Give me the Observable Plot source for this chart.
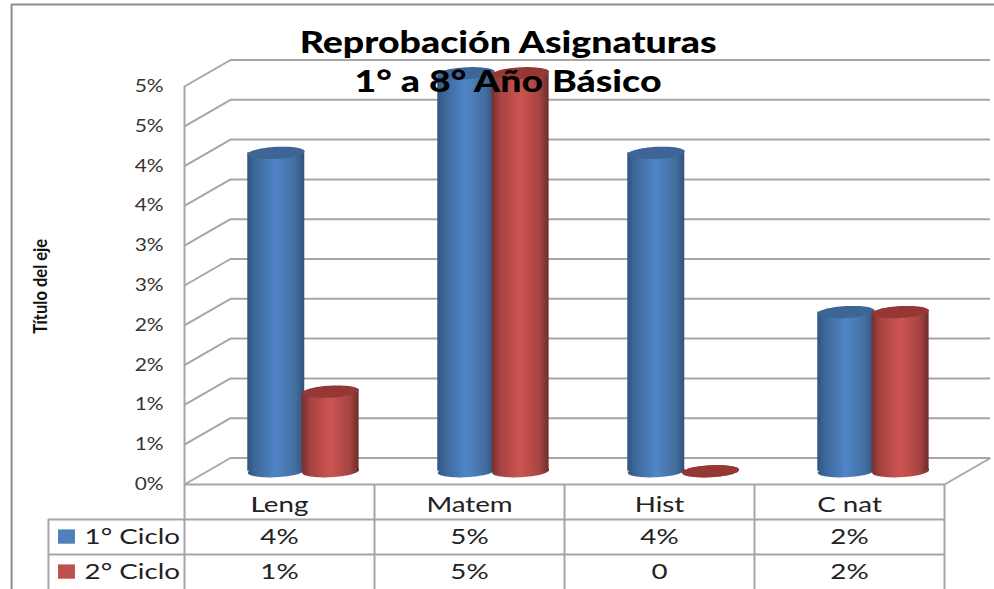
<!DOCTYPE html>
<html>
<head>
<meta charset="utf-8">
<script src="https://cdn.jsdelivr.net/npm/d3@7"></script>
<script src="https://cdn.jsdelivr.net/npm/@observablehq/plot@0.6"></script>
<style>html,body{margin:0;padding:0;background:#fff;overflow:hidden}svg{display:block}</style>
</head>
<body>
<script>
const categories = ["Leng", "Matem", "Hist", "C nat"];
const ciclo1 = [4, 5, 4, 2];
const ciclo2 = [1, 5, 0, 2];
const ciclo1Labels = ["4%", "5%", "4%", "2%"];
const ciclo2Labels = ["1%", "5%", "0", "2%"];
const seriesNames = ["1° Ciclo", "2° Ciclo"];
const tickValues = [0, 0.5, 1, 1.5, 2, 2.5, 3, 3.5, 4, 4.5, 5];
const tickLabels = ["0%", "1%", "1%", "2%", "2%", "3%", "3%", "4%", "4%", "5%", "5%"];
const titleLines = ["Reprobación Asignaturas", "1° a 8° Año Básico"];
const axisTitle = "Título del eje";

// Layout, in data units of the two scales
const depthX = 0.242, depthY = 0.333;
const halfBar = 0.15, barOffset = 0.143;
const rowY = [-0.44, -0.88, -1.33];
const tableLeft = -0.716;
const grid = "#a6a6a6";

const barData = (values, off) => values.map((v, i) => ({
  x: i + 0.505 + depthX / 2 + off, base: depthY / 2, top: v + depthY / 2
}));

const ellipse = {
  draw(ctx) {
    const rx = 28.5, ry = 6, a = -3 * Math.PI / 180;
    for (let k = 0; k <= 64; ++k) {
      const t = k / 64 * 2 * Math.PI, ex = rx * Math.cos(t), ey = ry * Math.sin(t);
      const px = ex * Math.cos(a) - ey * Math.sin(a), py = ex * Math.sin(a) + ey * Math.cos(a);
      k ? ctx.lineTo(px, py) : ctx.moveTo(px, py);
    }
    ctx.closePath();
  }
};

const cylinder = (values, off, grad, cap) => {
  const d = barData(values, off);
  return [
    Plot.dot(d, {x: "x", y: "base", r: 10, symbol: ellipse, fill: grad}),
    Plot.rect(d.filter(b => b.top > b.base), {x1: b => b.x - halfBar, x2: b => b.x + halfBar, y1: "base", y2: "top", fill: grad}),
    Plot.dot(d, {x: "x", y: "top", r: 10, symbol: ellipse, fill: cap})
  ];
};

const defs = () => {
  const svgNS = "http://www.w3.org/2000/svg";
  const el = document.createElementNS(svgNS, "defs");
  const stops = {
    gBlue: [[0, "#2f5480"], [0.12, "#3c6698"], [0.5, "#5085c7"], [0.85, "#426d9f"], [1, "#30527a"]],
    gRed: [[0, "#75302e"], [0.15, "#a54341"], [0.5, "#cd5451"], [0.85, "#a54341"], [1, "#6b2d2b"]]
  };
  for (const id in stops) {
    const g = document.createElementNS(svgNS, "linearGradient");
    g.setAttribute("id", id);
    for (const [o, c] of stops[id]) {
      const s = document.createElementNS(svgNS, "stop");
      s.setAttribute("offset", o);
      s.setAttribute("stop-color", c);
      g.appendChild(s);
    }
    el.appendChild(g);
  }
  return el;
};

const centers = categories.map((_, i) => i + 0.5);
const cellY = [-0.66, -1.10];
const fontBody = "Lato";
const tag = name => () => name;

const chart = Plot.plot({
  width: 994,
  height: 589,
  margin: 0,
  x: {domain: [0, 4], range: [184, 944], axis: null},
  y: {domain: [0, 5], range: [484, 86], axis: null},
  style: {background: "#fff"},
  marks: [
    defs,
    // outer frame
    Plot.ruleX([-0.91], {y1: -1.33, y2: 6.03, stroke: "#8c8c8c", strokeWidth: 2}),
    Plot.ruleY([6.03], {x1: -0.91, x2: 4.3, stroke: "#8c8c8c", strokeWidth: 2}),
    // back wall grid and side wall diagonals
    Plot.ruleY(tickValues.map(v => v + depthY), {x1: depthX, x2: 4 + depthX, stroke: grid, strokeWidth: 2}),
    Plot.link(tickValues, {x1: 0, y1: v => v, x2: depthX, y2: v => v + depthY, stroke: grid, strokeWidth: 2}),
    Plot.link([0], {x1: 4, y1: 0, x2: 4 + depthX, y2: depthY, stroke: grid, strokeWidth: 2}),
    // front edges
    Plot.ruleX([0], {y1: rowY[2], y2: 5, stroke: grid, strokeWidth: 2}),
    Plot.ruleY([0], {x1: 0, x2: 4, stroke: grid, strokeWidth: 2}),
    // data table grid
    Plot.ruleY(rowY.slice(0, 2), {x1: tableLeft, x2: 4, stroke: grid, strokeWidth: 2}),
    Plot.ruleX([tableLeft], {y1: rowY[0], y2: rowY[2], stroke: grid, strokeWidth: 2}),
    Plot.ruleX([1, 2, 3, 4], {y1: 0, y2: rowY[2], stroke: grid, strokeWidth: 2}),
    // cylinders
    ...cylinder(ciclo1, -barOffset, "url(#gBlue)", "#3d6696"),
    ...cylinder(ciclo2, barOffset, "url(#gRed)", "#953735"),
    // tick labels
    Plot.text(tickLabels, {x: -0.11, y: (d, i) => tickValues[i], text: d => d, textAnchor: "end", fontFamily: fontBody, fontSize: 17, fill: "#333", ariaLabel: tag("ticks")}),
    // axis title
    Plot.text([axisTitle], {x: -0.758, y: 2.49, text: d => d, rotate: -90, fontFamily: fontBody, fontWeight: 700, fontSize: 19, fill: "#111", ariaLabel: tag("axistitle")}),
    // table text
    Plot.text(categories, {x: (d, i) => centers[i], y: -0.26, text: d => d, fontFamily: fontBody, fontSize: 21, fill: "#222", ariaLabel: tag("table")}),
    Plot.text(ciclo1Labels, {x: (d, i) => centers[i], y: cellY[0], text: d => d, fontFamily: fontBody, fontSize: 21, fill: "#222", ariaLabel: tag("table")}),
    Plot.text(ciclo2Labels, {x: (d, i) => centers[i], y: cellY[1], text: d => d, fontFamily: fontBody, fontSize: 21, fill: "#222", ariaLabel: tag("table")}),
    Plot.text(seriesNames, {x: -0.526, y: (d, i) => cellY[i], text: d => d, textAnchor: "start", fontFamily: fontBody, fontSize: 21, fill: "#222", ariaLabel: tag("table")}),
    // legend keys
    Plot.rect(seriesNames, {x1: -0.663, x2: -0.574, y1: (d, i) => cellY[i] - 0.09, y2: (d, i) => cellY[i] + 0.09, fill: (d, i) => ["#4f81bd", "#c0504d"][i]}),
    // title
    Plot.text(titleLines, {x: 1.703, y: (d, i) => [5.54, 5.05][i], text: d => d, fontFamily: fontBody, fontWeight: 900, fontSize: 30, fill: "#000", ariaLabel: tag("title")})
  ]
});
document.body.appendChild(chart);

// The reference is horizontally stretched: widen glyphs to match
const stretch = {ticks: 1.23, axistitle: 0.87, table: 1.32, title: 1.25};
for (const key in stretch) {
  chart.querySelectorAll(`text[aria-label="${key}"]`).forEach(t => {
    const n = t.getComputedTextLength();
    t.setAttribute("textLength", n * stretch[key]);
    t.setAttribute("lengthAdjust", "spacingAndGlyphs");
    t.removeAttribute("aria-label");
  });
}
</script>
</body>
</html>
